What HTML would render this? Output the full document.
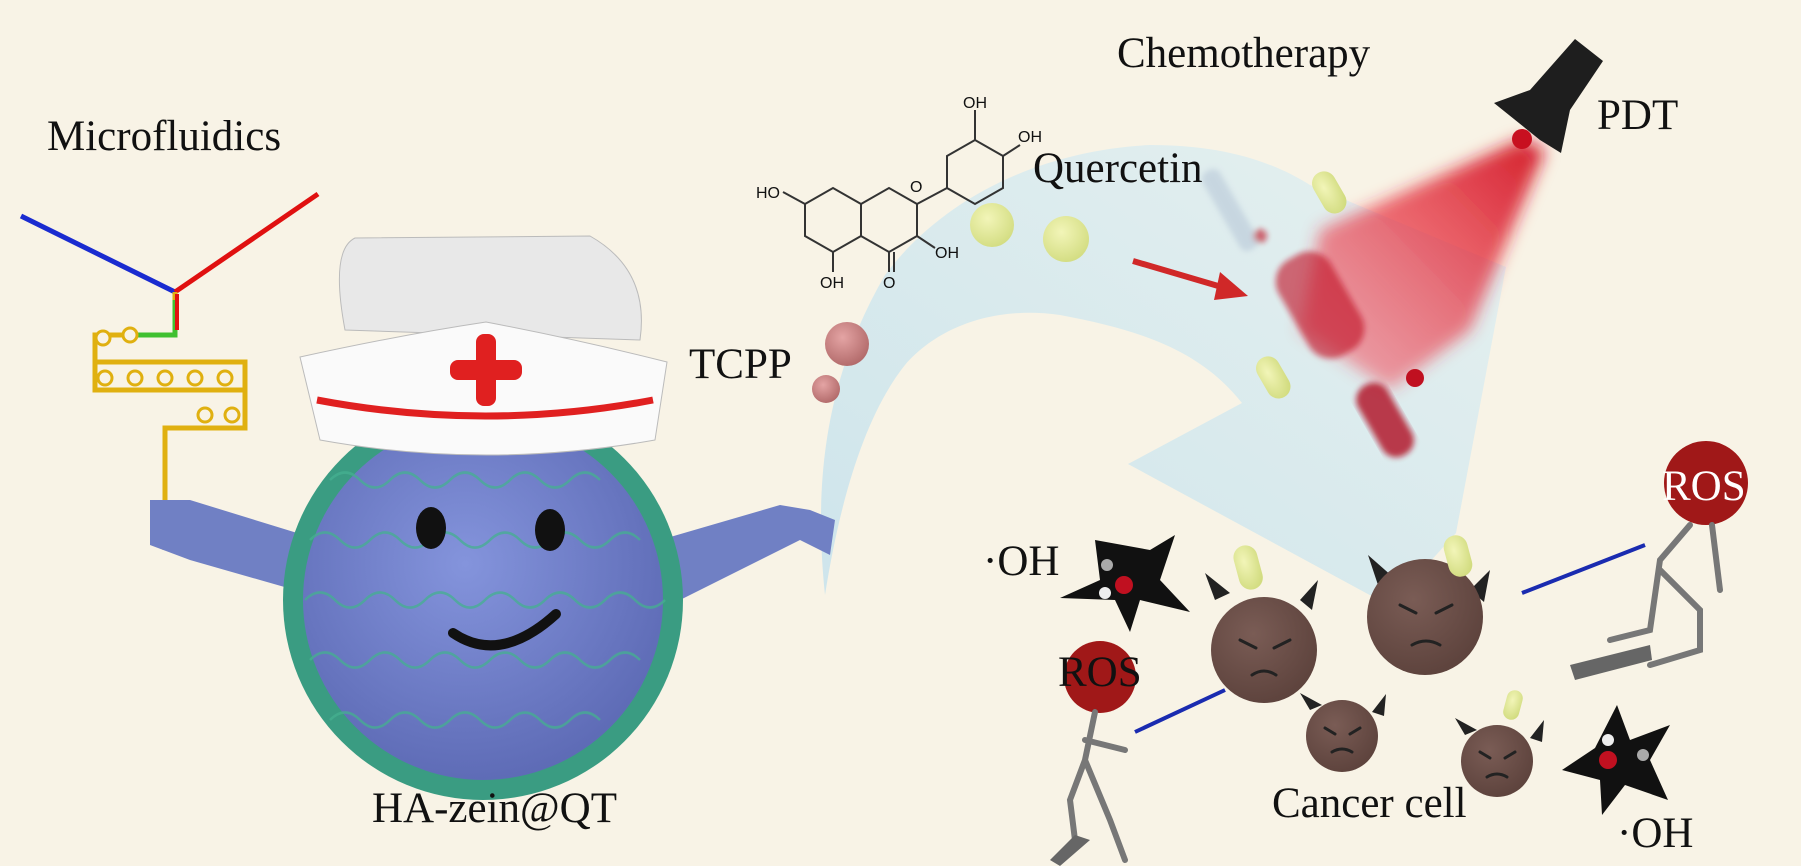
<!DOCTYPE html>
<html><head><meta charset="utf-8"><style>
html,body{margin:0;padding:0;background:#f8f3e6;}
svg{display:block}
text{font-family:"Liberation Serif",serif;fill:#111}
</style></head><body>
<svg width="1801" height="866" viewBox="0 0 1801 866" xmlns="http://www.w3.org/2000/svg">
<defs>
<radialGradient id="ball" cx="0.45" cy="0.4" r="0.7"><stop offset="0" stop-color="#8494dc"/><stop offset="1" stop-color="#5865b0"/></radialGradient>
<radialGradient id="yel" cx="0.4" cy="0.35" r="0.7"><stop offset="0" stop-color="#f2f5b8"/><stop offset="1" stop-color="#d2dc80"/></radialGradient>
<radialGradient id="pink" cx="0.4" cy="0.35" r="0.7"><stop offset="0" stop-color="#e4a4a4"/><stop offset="1" stop-color="#b06868"/></radialGradient>
<radialGradient id="cell" cx="0.4" cy="0.35" r="0.75"><stop offset="0" stop-color="#7a5c55"/><stop offset="1" stop-color="#5a403a"/></radialGradient>
<linearGradient id="beam" x1="1" y1="0" x2="0" y2="1"><stop offset="0" stop-color="#d01020" stop-opacity="0.95"/><stop offset="1" stop-color="#ff4050" stop-opacity="0.35"/></linearGradient>
<linearGradient id="arrow" x1="0" y1="1" x2="1" y2="0"><stop offset="0" stop-color="#c9e3ec"/><stop offset="1" stop-color="#e4f0f0"/></linearGradient>
<filter id="blur"><feGaussianBlur stdDeviation="8"/></filter>
<filter id="blur2"><feGaussianBlur stdDeviation="3"/></filter>
</defs>
<rect width="1801" height="866" fill="#f8f3e6"/>

<!-- curved arrow -->
<path d="M825,595 C812,470 830,370 885,275 C945,195 1045,150 1150,145 C1220,145 1270,160 1310,185 L1506,267 L1456,533 L1390,606 L1128,464 L1242,403 C1200,350 1140,330 1060,315 C990,305 935,330 905,365 C865,415 840,500 825,595 Z" fill="url(#arrow)" opacity="0.9"/>

<!-- light beam -->
<path d="M1522,139 L1545,150 L1470,330 L1390,390 L1300,330 L1320,230 Z" fill="url(#beam)" filter="url(#blur)"/>
<rect x="1290" y="250" width="60" height="110" rx="25" fill="#c01020" opacity="0.6" transform="rotate(-30 1320 305)" filter="url(#blur2)"/>
<rect x="1368" y="380" width="34" height="80" rx="16" fill="#b01020" opacity="0.8" transform="rotate(-30 1385 420)" filter="url(#blur2)"/>
<circle cx="1415" cy="378" r="9" fill="#c01020"/>
<g opacity="0.6" filter="url(#blur2)"><rect x="1220" y="165" width="20" height="90" rx="8" fill="#b8c8d8" transform="rotate(-30 1230 210)"/><circle cx="1260" cy="236" r="7" fill="#c01020"/></g>
<!-- flashlight -->
<path d="M1575,39 L1603,61 L1570,110 L1561,153 L1540,140 L1494,103 L1530,90 Z" fill="#1e1e1e"/>
<circle cx="1522" cy="139" r="10" fill="#c81020"/>
<!-- red arrow -->
<path d="M1133,261 L1225,288" stroke="#d02828" stroke-width="6"/>
<polygon points="1248,296 1220,272 1214,300" fill="#d02828"/>

<!-- spheres -->
<circle cx="992" cy="225" r="22" fill="url(#yel)"/>
<circle cx="1066" cy="239" r="23" fill="url(#yel)"/>
<rect x="1317" y="170" width="24" height="45" rx="12" fill="url(#yel)" transform="rotate(-30 1329 192)"/>
<rect x="1261" y="355" width="24" height="45" rx="12" fill="url(#yel)" transform="rotate(-30 1273 377)"/>
<circle cx="847" cy="344" r="22" fill="url(#pink)"/>
<circle cx="826" cy="389" r="14" fill="url(#pink)"/>

<!-- quercetin structure -->
<g stroke="#333" stroke-width="2" fill="none">
<polygon points="805,204 833,188 861,204 861,236 833,252 805,236"/>
<polygon points="861,204 889,188 917,204 917,236 889,252 861,236"/>
<polygon points="917,204 945,188 973,204 973,236 945,252 917,236" transform="translate(30,-48)"/>
<line x1="917" y1="204" x2="947" y2="188"/>
<line x1="805" y1="204" x2="783" y2="192"/>
<line x1="833" y1="252" x2="833" y2="272"/>
<line x1="889" y1="252" x2="889" y2="272"/><line x1="894" y1="252" x2="894" y2="272"/>
<line x1="917" y1="236" x2="935" y2="248"/>
<line x1="975" y1="140" x2="975" y2="110"/><line x1="1003" y1="156" x2="1020" y2="145"/>
</g>
<g font-size="16"><text x="756" y="198" style="font-family:'Liberation Sans',sans-serif">HO</text><text x="820" y="288" style="font-family:'Liberation Sans',sans-serif">OH</text><text x="883" y="288" style="font-family:'Liberation Sans',sans-serif">O</text><text x="935" y="258" style="font-family:'Liberation Sans',sans-serif">OH</text><text x="963" y="108" style="font-family:'Liberation Sans',sans-serif">OH</text><text x="1018" y="142" style="font-family:'Liberation Sans',sans-serif">OH</text><text x="910" y="192" style="font-family:'Liberation Sans',sans-serif">O</text></g>

<!-- microfluidics -->
<path d="M21,216 L175,292" stroke="#1a2bd0" stroke-width="5" fill="none"/>
<path d="M175,292 L318,194" stroke="#e01010" stroke-width="5" fill="none"/>
<path d="M175,292 L175,335 L95,335 L95,390 L245,390 L245,428 L165,428 L165,550" stroke="#e0b010" stroke-width="5" fill="none"/>
<path d="M95,362 L245,362 L245,390" stroke="#e0b010" stroke-width="5" fill="none"/>
<path d="M175,300 L175,335 L135,335" stroke="#40c030" stroke-width="5" fill="none"/>
<path d="M177,294 L177,330" stroke="#e01010" stroke-width="4" fill="none"/>
<g fill="#f8f3e6" stroke="#e0b010" stroke-width="3"><circle cx="103" cy="338" r="7"/><circle cx="130" cy="335" r="7"/><circle cx="105" cy="378" r="7"/><circle cx="135" cy="378" r="7"/><circle cx="165" cy="378" r="7"/><circle cx="195" cy="378" r="7"/><circle cx="225" cy="378" r="7"/><circle cx="205" cy="415" r="7"/><circle cx="232" cy="415" r="7"/></g>

<!-- arms -->
<path d="M150,500 L190,500 L320,540 L330,600 L260,580 L190,560 L150,545 Z" fill="#7080c4"/>
<path d="M660,540 L780,505 L810,510 L835,520 L830,555 L800,540 L680,600 Z" fill="#7080c4"/>
<!-- ball -->
<circle cx="483" cy="600" r="200" fill="#3a9c82"/>
<circle cx="483" cy="600" r="180" fill="url(#ball)"/>
<g fill="none" stroke="#45b090" stroke-width="2.5" opacity="0.75">
<path d="M330,480 q15,-15 30,0 t30,0 t30,0 t30,0 t30,0 t30,0 t30,0 t30,0 t30,0"/>
<path d="M310,540 q15,-15 30,0 t30,0 t30,0 t30,0 t30,0 t30,0 t30,0 t30,0 t30,0 t30,0 t30,0"/>
<path d="M305,600 q15,-15 30,0 t30,0 t30,0 t30,0 t30,0 t30,0 t30,0 t30,0 t30,0 t30,0 t30,0 t30,0"/>
<path d="M310,660 q15,-15 30,0 t30,0 t30,0 t30,0 t30,0 t30,0 t30,0 t30,0 t30,0 t30,0 t30,0"/>
<path d="M330,720 q15,-15 30,0 t30,0 t30,0 t30,0 t30,0 t30,0 t30,0 t30,0 t30,0"/>
</g>
<ellipse cx="431" cy="528" rx="15" ry="21" fill="#111"/>
<ellipse cx="550" cy="530" rx="15" ry="21" fill="#111"/>
<path d="M453,633 Q500,665 556,614" stroke="#111" stroke-width="10" fill="none" stroke-linecap="round"/>
<!-- hat -->
<path d="M345,330 Q330,250 355,238 L590,236 Q650,270 640,340 Z" fill="#e8e8e8" stroke="#bbb"/>
<path d="M300,357 Q400,335 486,322 Q580,340 667,362 L655,440 Q486,470 320,440 Z" fill="#fafafa" stroke="#bbb"/>
<path d="M317,400 Q486,432 653,400" stroke="#e02020" stroke-width="7" fill="none"/>
<rect x="450" y="360" width="72" height="20" rx="8" fill="#e02020"/>
<rect x="476" y="334" width="20" height="72" rx="8" fill="#e02020"/>

<!-- black stars -->
<path d="M1095,540 L1150,550 L1175,535 L1160,580 L1190,612 L1140,600 L1130,632 L1115,600 L1060,598 L1100,580 Z" fill="#111"/>
<path d="M1617,705 L1630,740 L1670,725 L1650,760 L1668,800 L1625,785 L1602,815 L1600,780 L1562,770 L1595,748 Z" fill="#111"/>
<circle cx="1124" cy="585" r="9" fill="#c01020"/><circle cx="1107" cy="565" r="6" fill="#aaa"/><circle cx="1105" cy="593" r="6" fill="#eee"/>
<circle cx="1608" cy="760" r="9" fill="#c01020"/><circle cx="1608" cy="740" r="6" fill="#eee"/><circle cx="1643" cy="755" r="6" fill="#aaa"/>

<!-- cancer cells -->
<g fill="#222">
<path d="M1215,600 l-10,-27 l25,20z"/><path d="M1300,600 l18,-20 l-6,30z"/>
<path d="M1378,585 l-10,-30 l25,22z"/><path d="M1470,590 l20,-20 l-6,32z"/>
<path d="M1310,710 l-10,-17 l22,12z"/><path d="M1372,712 l14,-18 l-2,22z"/>
<path d="M1465,735 l-10,-17 l22,12z"/><path d="M1530,738 l14,-18 l-2,22z"/>
</g>
<g fill="url(#cell)">
<circle cx="1264" cy="650" r="53"/><circle cx="1425" cy="617" r="58"/>
<circle cx="1342" cy="736" r="36"/><circle cx="1497" cy="761" r="36"/>
</g>
<g stroke="#222" stroke-width="3" fill="none" stroke-linecap="round">
<path d="M1240,640 l16,8 M1290,640 l-16,8 M1252,675 q12,-8 24,0"/>
<path d="M1400,605 l16,8 M1452,605 l-16,8 M1412,645 q14,-8 28,0"/>
<path d="M1325,728 l10,6 M1360,728 l-10,6 M1332,752 q10,-6 20,0"/>
<path d="M1480,752 l10,6 M1515,752 l-10,6 M1487,777 q10,-6 20,0"/>
</g>
<rect x="1236" y="545" width="24" height="45" rx="12" fill="url(#yel)" transform="rotate(-15 1248 567)"/>
<rect x="1446" y="535" width="24" height="42" rx="12" fill="url(#yel)" transform="rotate(-15 1458 556)"/>
<rect x="1505" y="690" width="16" height="30" rx="8" fill="url(#yel)" transform="rotate(15 1513 705)"/>

<!-- ROS blobs -->
<circle cx="1100" cy="677" r="36" fill="#a01818"/>
<circle cx="1706" cy="483" r="42" fill="#a01818"/>
<!-- stick figures -->
<g stroke="#777" stroke-width="6" fill="none" stroke-linecap="round">
<path d="M1095,712 L1085,760 L1110,820 L1125,860 M1085,760 L1070,800 L1075,840 M1085,740 L1125,750"/>
<path d="M1690,525 L1660,560 L1650,630 L1610,640 M1660,570 L1700,610 L1700,650 L1650,665 M1712,525 L1720,590"/>
</g>
<path d="M1050,860 L1075,835 L1090,840 L1060,866 Z" fill="#666"/>
<path d="M1570,665 L1650,645 L1652,660 L1575,680 Z" fill="#666"/>
<line x1="1135" y1="732" x2="1225" y2="690" stroke="#1a2bb0" stroke-width="4"/>
<line x1="1522" y1="593" x2="1645" y2="545" stroke="#1a2bb0" stroke-width="4"/>

<!-- labels -->
<g font-size="43">
<text x="47" y="150">Microfluidics</text>
<text x="1117" y="67">Chemotherapy</text>
<text x="1597" y="129">PDT</text>
<text x="1033" y="182">Quercetin</text>
<text x="689" y="378">TCPP</text>
<text x="372" y="822">HA-zein@QT</text>
<text x="1272" y="817">Cancer cell</text>
<text x="983" y="575">·OH</text>
<text x="1617" y="847">·OH</text>
<text x="1058" y="686">ROS</text>
<text x="1662" y="500" style="fill:#fff">ROS</text>
</g>
</svg>
</body></html>
